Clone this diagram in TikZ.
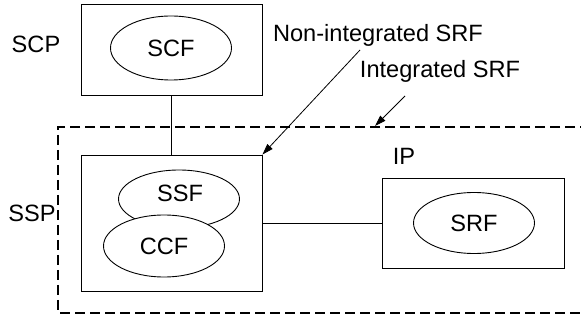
\documentclass[tikz,border=0pt]{standalone}
\usepackage{fontspec}
\setmainfont{Liberation Sans}
\usetikzlibrary{positioning, arrows.meta, shapes.geometric}

\begin{document}
\begin{tikzpicture}
    [
        x=1pt, y=-1pt,
        font=\fontsize{23.6}{28}\selectfont,
        box_node/.style={rectangle, draw=black!100, fill=white, line width=0.9pt, inner sep=0pt},
        func_node/.style={ellipse, draw=black!100, fill=white, line width=0.9pt, inner sep=0pt, minimum width=121pt},
        name_node/.style={inner sep=0pt, anchor=base},
        link/.style={line width=0.8pt, color=black},
        pointer/.style={->, >={Triangle[length=11pt, width=7pt]}, line width=0.8pt, color=black},
    ]
        \useasboundingbox (0,0) rectangle (581,320) ;
        % dashed frame round the switching point
        \draw[line width=1.6pt, dash pattern=on 10pt off 5pt] (590,127) -- (58,127) -- (58,313) -- (590,313) ;
        % physical entities
        \node[box_node, minimum width=181pt, minimum height=91pt] (scp) at (171.5,49.5) {} ;
        \node[box_node, minimum width=181pt, minimum height=136pt] (ssp) at (171.5,223) {} ;
        \node[box_node, minimum width=182pt, minimum height=90pt] (ip) at (473,223) {} ;
        % functional entities
        \node[func_node, minimum height=64pt] (scf) at (171,48) {SCF} ;
        \node[func_node, minimum height=58pt] (ssf) at (179,199) {} ;
        \node[name_node] (ssf_text) at (180,202) {SSF} ;
        \node[func_node, minimum height=62pt] (ccf) at (164,246) {CCF} ;
        \node[func_node, minimum height=61pt] (srf) at (474,223) {SRF} ;
        % names
        \node[name_node] (scp_name) at (36,53) {SCP} ;
        \node[name_node] (ssp_name) at (32,222) {SSP} ;
        \node[name_node] (ip_name) at (404,165) {IP} ;
        \node[name_node] (nonint) at (378,42) {Non-integrated SRF} ;
        \node[name_node] (int) at (440,78) {Integrated SRF} ;
        \coordinate (nonint_tail) at (360,50) ;
        \coordinate (int_tail) at (405,96) ;
        \coordinate (int_tip) at (375,126) ;
        % links
        \draw[link] (scp.south) -- (ssp.north) ;
        \draw[link] (ssp.east) -- (ip.west) ;
        \draw[pointer] (nonint_tail) -- (ssp.north east) ;
        \draw[pointer] (int_tail) -- (int_tip) ;
    \end{tikzpicture}
\end{document}
